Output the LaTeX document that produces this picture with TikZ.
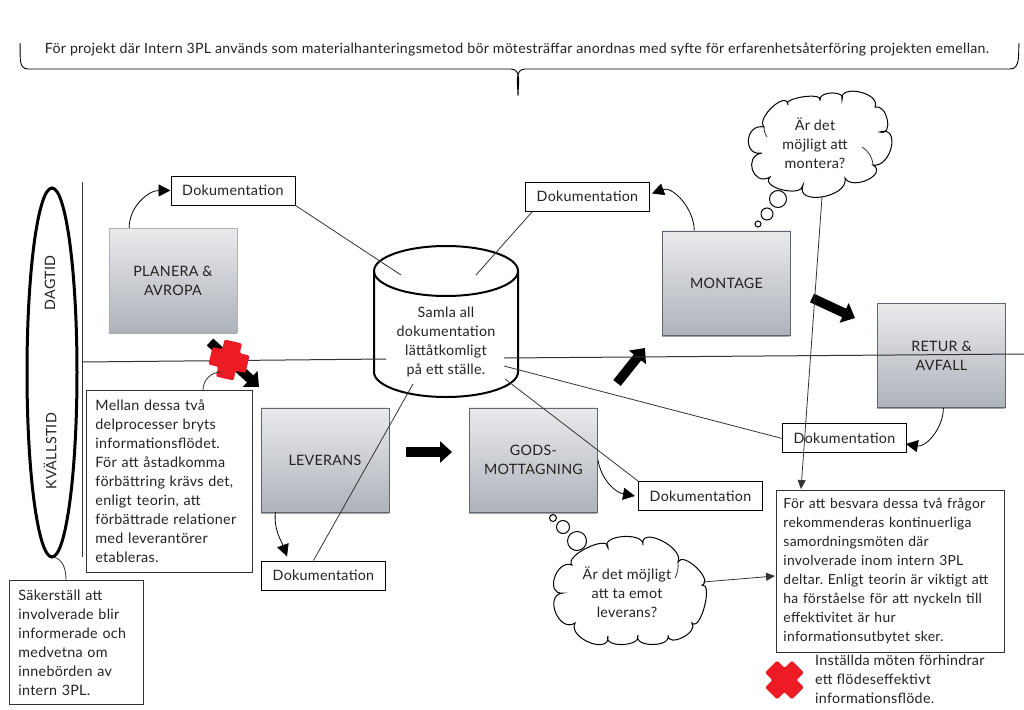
\documentclass[tikz,border=0pt]{standalone}
\usepackage{fontspec}
\setmainfont[LetterSpace=2]{Lato}
\usetikzlibrary{arrows.meta,shadows,calc}
\definecolor{crossred}{HTML}{ED1C24}
\definecolor{inktext}{HTML}{222222}
\definecolor{boxtop}{HTML}{E9EAEC}
\definecolor{boxbottom}{HTML}{AEB2BA}
\definecolor{boxedge}{HTML}{5F666E}
\definecolor{lineink}{HTML}{333333}
\newcommand{\lobe}[3]{.. controls ($(#1)!-0.15!(#3) + 1.333*(#2) - 0.667*(#1) - 0.667*(#3)$) and ($(#3)!-0.15!(#1) + 1.333*(#2) - 0.667*(#1) - 0.667*(#3)$) .. (#3)}
\frenchspacing
\tikzset{
  x=1pt,y=-1pt,
  every node/.style={text=inktext,font=\fontsize{14.3}{19}\selectfont,inner sep=0pt},
  process/.style={draw=boxedge,line width=0.9pt,top color=boxtop,bottom color=boxbottom,align=center,drop shadow={shadow xshift=0pt,shadow yshift=-2pt,opacity=.35,fill=black},anchor=north west,minimum width=128pt,minimum height=104pt},
  docbox/.style={draw=black,fill=white,line width=0.9pt,minimum width=124pt,minimum height=29pt,anchor=north west},
  notebox/.style={draw=black!80,fill=white,line width=0.9pt,anchor=north west,align=left},
  plainline/.style={draw=lineink,line width=0.8pt},
  thinarrow/.style={plainline,-{Triangle[length=9pt,width=8pt]}},
  curvearrow/.style={draw=black,line width=0.8pt,-{Triangle[length=12pt,width=12pt]}},
  blockarrow/.style={draw=black,line width=9.5pt,-{Triangle[length=12pt,width=21pt]}},
  cloudline/.style={draw=black,line width=1pt,fill=white},
  puff/.style={draw=black,line width=1pt,fill=white,circle,minimum size=#1},
  crossmark/.style={fill=crossred,rounded corners=2pt},
}
\begin{document}
\begin{tikzpicture}
\useasboundingbox (0,0) rectangle (1024,709);
% anchor coordinates
\coordinate (hleftA) at (82,362);
\coordinate (hleftB) at (386,359);
\coordinate (hrightA) at (504,358);
\coordinate (hrightB) at (1024,354);
\coordinate (cylTopL) at (401,275);
\coordinate (cylTopR) at (476,275);
\coordinate (cylLow) at (413,384);
\coordinate (cylR) at (504,366);
\coordinate (cylRb) at (505,379);
\coordinate (cloudOneFoot) at (822,197);
\coordinate (cloudTwoFoot) at (703,582);
\coordinate (bigTop) at (801,489);
\coordinate (bigLeft) at (775,576);

% vertical divider
\draw[plainline,line width=1pt] (82,182) -- (82,557);

% doc boxes
\node[docbox] (docA) at (170.5,175.5) {Dokumentation};
\node[docbox] (docB) at (525,181.5) {Dokumentation};
\node[docbox] (docC) at (782,423) {Dokumentation};
\node[docbox] (docD) at (638,481) {Dokumentation};
\node[docbox] (docE) at (261,560.5) {Dokumentation};

% cylinder
\draw[draw=black,fill=white,line width=2pt] (374,271) -- (374,372) arc[start angle=180,end angle=360,x radius=72,y radius=-25] -- (518,271) arc[start angle=0,end angle=-180,x radius=72,y radius=25] -- cycle;
\draw[draw=black,line width=2pt] (374,271) arc[start angle=180,end angle=360,x radius=72,y radius=-25];
\node[align=center] (store) at (446,342) {Samla all\\dokumentation\\lättåtkomligt\\på ett ställe.};

% time ellipse
\draw[draw=black,line width=3pt] (52,372.5) ellipse[x radius=25,y radius=184.5];
\node[rotate=90] (dag) at (50,283) {DAGTID};
\node[rotate=90] (kvall) at (50,451) {KVÄLLSTID};

% process boxes
\node[process,draw=gray!60] (plan) at (108.5,228) {PLANERA \&\\AVROPA};
\node[process] (mont) at (662,230.5) {MONTAGE};
\node[process] (retur) at (877,303) {RETUR \&\\AVFALL};
\node[process] (lev) at (260.5,407.5) {LEVERANS};
\node[process] (gods) at (469,407.5) {GODS-\\MOTTAGNING};

% curved arrows
\draw[curvearrow] ($(plan.north west)!0.16!(plan.north east)$) to[out=90,in=180] (docA.west);
\draw[curvearrow] ($(mont.north west)!0.25!(mont.north east)$) to[out=90,in=20] ($(docB.east)+(2,-3)$);
\draw[curvearrow] ($(retur.south west)!0.515!(retur.south east)$) to[out=-90,in=-10] ($(docC.east)+(-1,6)$);
\draw[curvearrow] ($(gods.south east)!0.5!(gods.north east)$) to[out=-80,in=170] ($(docD.west)+(-3,0)$);
\draw[curvearrow] ($(lev.south west)!0.115!(lev.south east)$) to[out=-95,in=110] ($(docE.north west)+(26,-4)$);

% block arrows
\coordinate (baS) at (210,342); \coordinate (baE) at (259,387);
\coordinate (bbS) at (406,452); \coordinate (bbE) at (452,452);
\coordinate (bcS) at (617,383); \coordinate (bcE) at (645,348);
\coordinate (bdS) at (812,298); \coordinate (bdE) at (855,318);
\draw[blockarrow] (baS) -- (baE);
\draw[blockarrow] (bbS) -- (bbE);
\draw[blockarrow] (bcS) -- (bcE);
\draw[blockarrow] (bdS) -- (bdE);

% connector lines lying over the shapes
\draw[plainline,line width=1pt] (hleftA) -- (hleftB);
\draw[plainline,line width=1pt] (hrightA) -- (hrightB);
\draw[thinarrow] (cloudOneFoot) -- (bigTop);
\draw[plainline] (docA.south east) -- (cylTopL);
\draw[plainline] ($(docB.south west)!0.06!(docB.south east)$) -- (cylTopR);
\draw[plainline] ($(docE.north west)!0.42!(docE.north east)$) -- (cylLow);
\draw[plainline] ($(docC.west)+(0,0.5)$) -- (cylR);
\draw[plainline] (docD.north west) -- (cylRb);

% red crosses
\fill[crossmark,rotate around={-13:(229,360)}] (220,341) -- (238,341) -- (238,351) -- (248,351) -- (248,369) -- (238,369) -- (238,379) -- (220,379) -- (220,369) -- (210,369) -- (210,351) -- (220,351) -- cycle;
\fill[crossmark,rotate around={45:(784.5,680)}] (776,661) -- (793,661) -- (793,671.5) -- (803.5,671.5) -- (803.5,688.5) -- (793,688.5) -- (793,699) -- (776,699) -- (776,688.5) -- (765.5,688.5) -- (765.5,671.5) -- (776,671.5) -- cycle;

% notes
\node[notebox,inner xsep=9pt,minimum width=166pt,minimum height=182pt,text width=148pt] (mellan) at (86,390) {Mellan dessa två\\delprocesser bryts\\informationsflödet.\\För att åstadkomma\\förbättring krävs det,\\enligt teorin, att\\förbättrade relationer\\med leverantörer\\etableras.};
\draw[plainline] (203,390) to[out=90,in=180] (221,372);
\node[notebox,inner xsep=9pt,minimum width=134pt,minimum height=124pt,text width=116pt] (saker) at (9,580) {Säkerställ att\\involverade blir\\informerade och\\medvetna om\\innebörden av\\intern 3PL.};
\draw[plainline] (53,557) to[out=-10,in=90] ($(saker.north west)+(57,0)$);
\node[notebox,inner xsep=7pt,minimum width=228pt,minimum height=162pt,text width=214pt,font=\fontsize{13.9}{19}\selectfont] (big) at (776,490) {För att besvara dessa två frågor\\rekommenderas kontinuerliga\\samordningsmöten där\\involverade inom intern 3PL\\deltar. Enligt teorin är viktigt att\\ha förståelse för att nyckeln till\\effektivitet är hur\\informationsutbytet sker.};
\node[align=left,anchor=west] (flow) at (815,679.5) {Inställda möten förhindrar\\ett flödeseffektivt\\informationsflöde.};

% thought cloud one
\draw[cloudline] (764,127) \lobe{764,127}{773,107}{788,105} \lobe{788,105}{803,97}{820,100} \lobe{820,100}{833,93}{842,100} \lobe{842,100}{860,92}{875,107} \lobe{875,107}{888,120}{880,132} \lobe{880,132}{892,147}{873,165} \lobe{873,165}{868,180}{845,178} \lobe{845,178}{823,197}{803,185} \lobe{803,185}{783,190}{770,177} \lobe{770,177}{753,170}{762,153} \lobe{762,153}{749,140}{764,127} -- cycle;
\draw[plainline] (862,147) to[bend left=25] (873,165);
\draw[plainline] (764,127) to[bend right=15] (767,137);
\node[align=center] (cloudA) at (815,143) {Är det\\möjligt att\\montera?};
\node[puff=17pt] (p1) at (778,199) {};
\node[puff=12pt] (p2) at (767,214) {};
\node[puff=6pt] (p3) at (758,224) {};

% thought cloud two
\draw[cloudline] (572,565) \lobe{572,565}{588,548}{608,548} \lobe{608,548}{623,537}{643,545} \lobe{643,545}{662,541}{678,562} \lobe{678,562}{697,568}{702,585} \lobe{702,585}{705,607}{692,623} \lobe{692,623}{683,638}{668,635} \lobe{668,635}{653,645}{638,635} \lobe{638,635}{623,645}{608,636} \lobe{608,636}{590,643}{575,623} \lobe{575,623}{556,613}{563,593} \lobe{563,593}{555,578}{572,565} -- cycle;
\draw[plainline] (678,562) to[bend left=15] (675,578);
\node[align=center] (cloudB) at (627,592) {Är det möjligt\\att ta emot\\leverans?};
\node[puff=19pt] (q1) at (577,541) {};
\node[puff=13pt] (q2) at (563,527) {};
\node[puff=7pt] (q3) at (553,518) {};
\draw[thinarrow] (cloudTwoFoot) -- (bigLeft);

% top brace
\draw[draw=black,line width=0.9pt] (20,43) to[out=-85,in=180] (28,69) -- (511,69) to[out=0,in=90] (518,96) to[out=90,in=180] (525,69) -- (1010,69) to[out=0,in=-95] (1019,43);
\node[font=\fontsize{14.15}{19}\selectfont] (top) at (517,49) {För projekt där Intern 3PL används som materialhanteringsmetod bör mötesträffar anordnas med syfte för erfarenhetsåterföring projekten emellan.};
\end{tikzpicture}
\end{document}
